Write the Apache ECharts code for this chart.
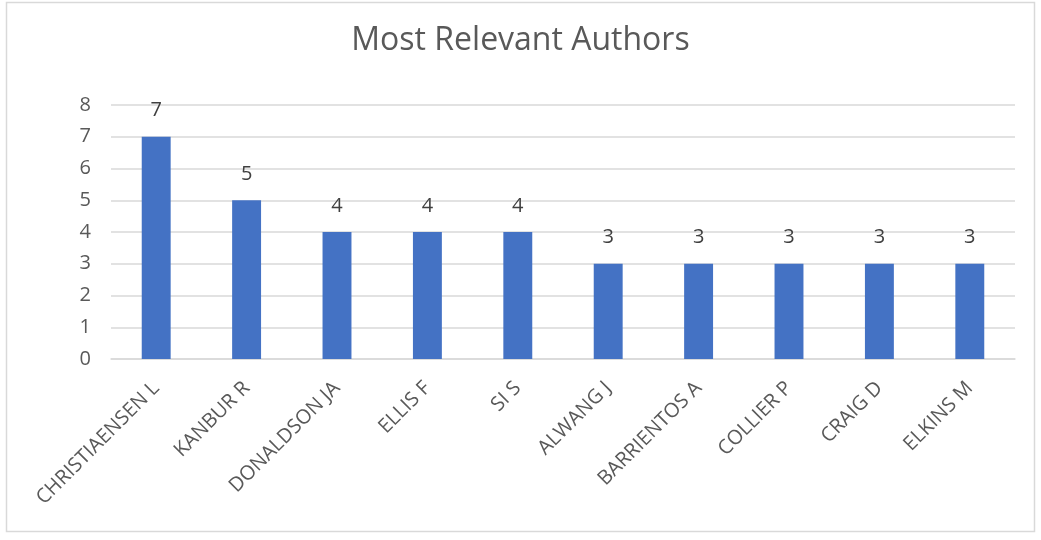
<!DOCTYPE html>
<html>
<head>
<meta charset="utf-8">
<script src="https://cdn.jsdelivr.net/npm/echarts@6/dist/echarts.min.js"></script>
<style>html,body{margin:0;padding:0;background:#fff;}#c{width:1041px;height:540px;}</style>
</head>
<body>
<div id="c"></div>
<script>
const categories = ["CHRISTIAENSEN L","KANBUR R","DONALDSON JA","ELLIS F","SI S","ALWANG J","BARRIENTOS A","COLLIER P","CRAIG D","ELKINS M"];
const values = [7,5,4,4,4,3,3,3,3,3];
const yTicks = [0,1,2,3,4,5,6,7,8];

const chart = echarts.init(document.getElementById('c'));
chart.setOption({
  animation: false,
  backgroundColor: '#fff',
  title: {
    text: 'Most Relevant Authors',
    left: 'center',
    top: 20,
    textStyle: {fontFamily: 'Open Sans', fontSize: 32, fontWeight: 'normal', color: '#595959'}
  },
  graphic: [{
    type: 'rect',
    shape: {x: 6.5, y: 2.5, width: 1028, height: 529},
    style: {fill: 'none', stroke: '#d9d9d9', lineWidth: 1.5},
    silent: true
  }],
  grid: {left: 111, right: 26, top: 105, bottom: 181, containLabel: false},
  xAxis: {
    type: 'category',
    data: categories,
    axisLine: {show: true, lineStyle: {color: '#d9d9d9', width: 1.5}},
    axisTick: {show: false},
    axisLabel: {
      rotate: 45, interval: 0, margin: 26,
      fontFamily: 'Open Sans', fontSize: 20, color: '#595959'
    }
  },
  yAxis: {
    type: 'value',
    min: 0, max: 8, interval: 1,
    axisLine: {show: false},
    axisTick: {show: false},
    splitLine: {lineStyle: {color: '#d9d9d9', width: 1.5}},
    axisLabel: {
      margin: 20,
      fontFamily: 'Open Sans', fontSize: 20, color: '#595959',
      formatter: v => yTicks.includes(v) ? String(v) : ''
    }
  },
  series: [{
    type: 'bar',
    data: values,
    barWidth: '32%',
    itemStyle: {color: '#4472C4'},
    label: {
      show: true, position: 'top', distance: 16,
      fontFamily: 'Open Sans', fontSize: 20, color: '#404040'
    }
  }]
});
</script>
</body>
</html>
